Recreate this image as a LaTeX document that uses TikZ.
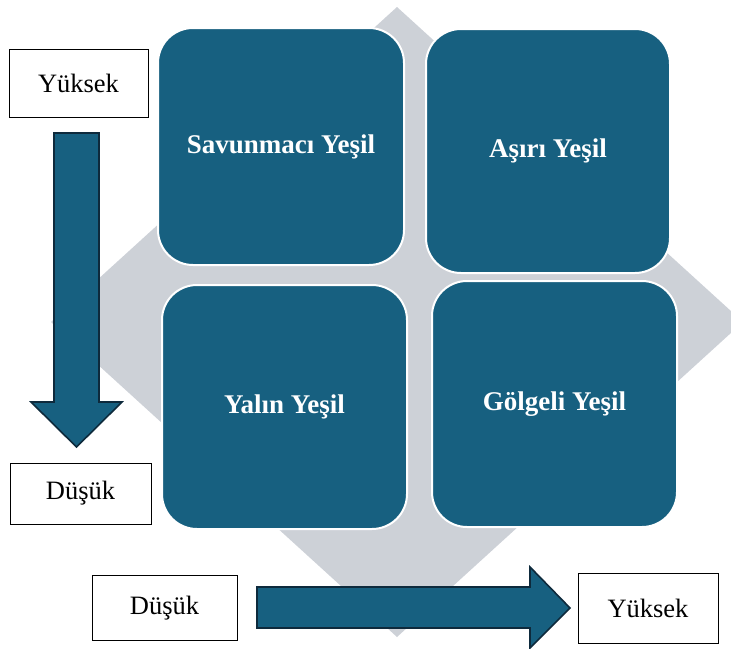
\documentclass[tikz,border=0pt]{standalone}
\usepackage{fontspec}
\setmainfont{Liberation Serif}
\definecolor{tealbox}{RGB}{23,96,128}
\definecolor{diamondgrey}{RGB}{205,209,215}
\definecolor{arrowline}{RGB}{14,42,60}
\tikzset{
  quad/.style={draw=white, line width=2pt, fill=tealbox, rounded corners=35pt,
    inner sep=0pt, outer sep=0pt, text=white,
    font=\fontsize{27}{31}\selectfont\bfseries},
  labelbox/.style={draw=black, line width=0.8pt, fill=white, inner sep=0pt,
    font=\fontsize{26.5}{30}\selectfont},
  blockarrow/.style={fill=tealbox, draw=arrowline, line width=1.6pt, line join=miter}
}
\begin{document}
\begin{tikzpicture}[x=1pt,y=-1pt]
\useasboundingbox (0,0) rectangle (731,648);
% background diamond
\fill[diamondgrey] (397,7) -- (743,322) -- (397,637) -- (51,322) -- cycle;
% quadrants
\node[quad, minimum width=246pt, minimum height=237pt] (sav) at (281,146.5) {Savunmacı Yeşil};
\node[quad, minimum width=244pt, minimum height=244pt] (asi) at (548,151) {Aşırı Yeşil};
\node[quad, minimum width=245pt, minimum height=244pt] (yal) at (284.5,407) {Yalın Yeşil};
\node[quad, minimum width=245pt, minimum height=246pt] (gol) at (554.5,404) {Gölgeli Yeşil};
% label boxes
\node[labelbox, minimum width=139pt, minimum height=68pt] (vhigh) at (78.5,83) {Yüksek};
\node[labelbox, minimum width=141pt, minimum height=61pt] (vlow) at (80.5,493.5) {Düşük};
\node[labelbox, minimum width=145pt, minimum height=65pt] (hlow) at (164.5,608) {Düşük};
\node[labelbox, minimum width=140pt, minimum height=70pt] (hhigh) at (648,608) {Yüksek};
% vertical block arrow
\draw[blockarrow] (54,133) -- (99,133) -- (99,402) -- (122,402) -- (76.5,447)
  -- (31,402) -- (54,402) -- cycle;
% horizontal block arrow
\draw[blockarrow] (257,587) -- (530,587) -- (530,567) -- (570,608) -- (530,648)
  -- (530,628) -- (257,628) -- cycle;
\end{tikzpicture}
\end{document}
